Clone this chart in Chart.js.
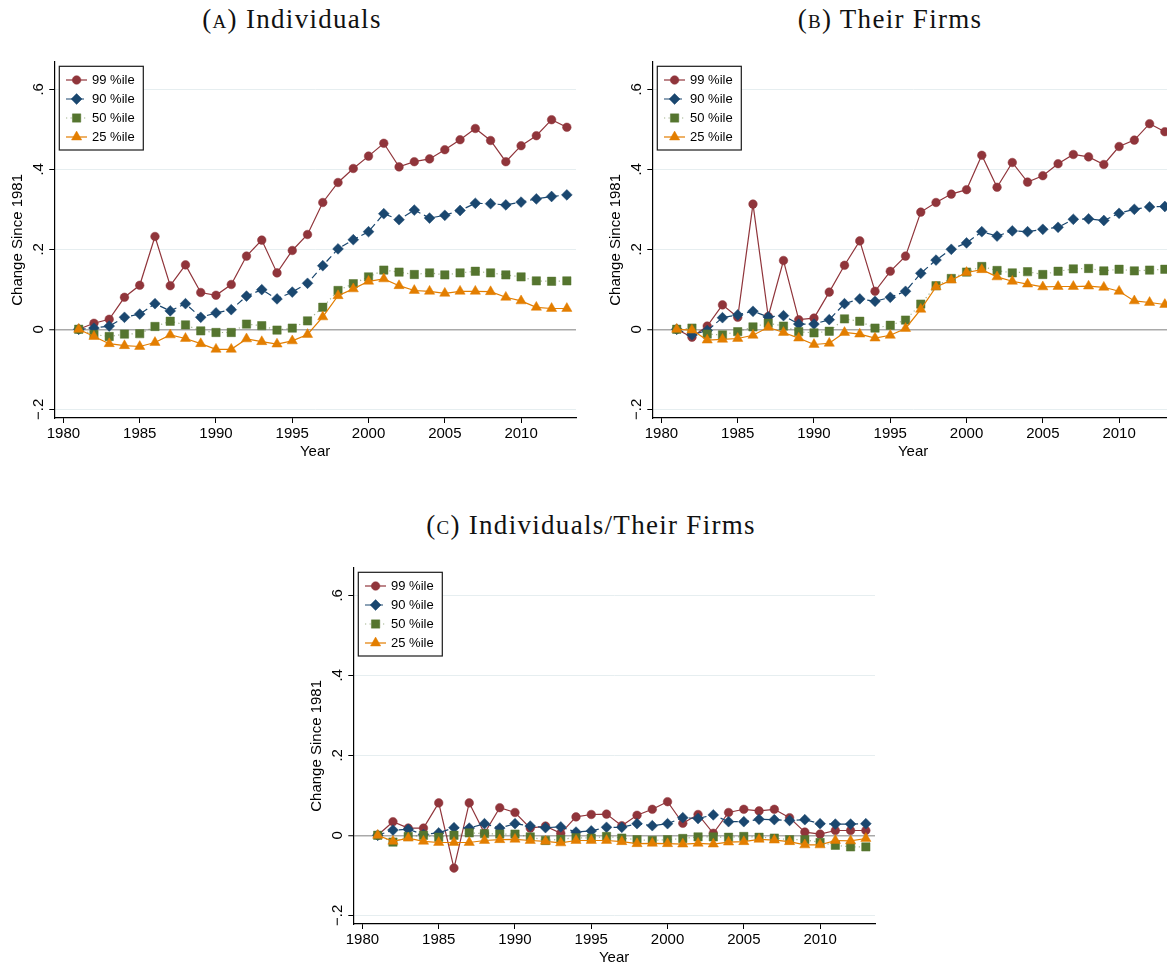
<!DOCTYPE html>
<html>
<head>
<meta charset="utf-8">
<title>Change since 1981 by percentile</title>
<script src="https://cdn.jsdelivr.net/npm/chart.js@4.4.1/dist/chart.umd.min.js"></script>
<style>
  html, body { margin: 0; padding: 0; background: #fff; width: 1167px; height: 968px; overflow: hidden; }
  .panel { position: absolute; width: 600px; height: 470px; }
  .panel canvas { position: absolute; left: 0; top: 0; }
  .ptitle {
    position: absolute; width: 500px; text-align: center; white-space: nowrap;
    font-family: "Liberation Serif", "Times New Roman", serif; font-size: 27px;
    letter-spacing: 1.3px; line-height: 32px; color: #111;
  }
  .sc { font-variant: small-caps; }
</style>
</head>
<body>
<div class="ptitle" style="left:42px; top:3px">(<span class="sc">a</span>) Individuals</div>
<div class="ptitle" style="left:640px; top:3px">(<span class="sc">b</span>) Their Firms</div>
<div class="ptitle" style="left:341px; top:509px">(<span class="sc">c</span>) Individuals/Their Firms</div>

<div class="panel" style="left:0px; top:0px"><canvas id="panelA" width="600" height="470"></canvas></div>
<div class="panel" style="left:598px; top:0px"><canvas id="panelB" width="600" height="470"></canvas></div>
<div class="panel" style="left:299px; top:506px"><canvas id="panelC" width="600" height="470"></canvas></div>

<script>
// Years covered by every series
const years = [1981, 1982, 1983, 1984, 1985, 1986, 1987, 1988, 1989, 1990, 1991,
               1992, 1993, 1994, 1995, 1996, 1997, 1998, 1999, 2000, 2001, 2002,
               2003, 2004, 2005, 2006, 2007, 2008, 2009, 2010, 2011, 2012, 2013];

const seriesLabels = ['99 %ile', '90 %ile', '50 %ile', '25 %ile'];

// (a) Individuals
const indiv99 = [0, .015, .025, .080, .110, .232, .109, .161, .092, .085, .112, .183, .223, .141, .197, .237, .317,
                 .367, .402, .433, .465, .406, .419, .426, .449, .474, .502, .472, .419, .459, .484, .524, .505];
const indiv90 = [0, .003, .008, .030, .038, .064, .046, .064, .030, .041, .049, .083, .099, .076, .093, .115, .159,
                 .201, .224, .244, .289, .274, .298, .278, .285, .297, .315, .314, .311, .318, .326, .332, .336];
const indiv50 = [0, -.013, -.018, -.012, -.011, .007, .020, .011, -.004, -.008, -.008, .013, .009, -.002, .003, .021, .055,
                 .097, .114, .131, .148, .143, .137, .141, .136, .141, .145, .141, .136, .131, .121, .120, .121];
const indiv25 = [0, -.018, -.036, -.041, -.043, -.033, -.014, -.023, -.036, -.050, -.050, -.024, -.031, -.037, -.029, -.013, .031,
                 .084, .101, .120, .126, .109, .097, .095, .090, .095, .095, .094, .080, .071, .055, .052, .052];

// (b) Their firms
const firm99 = [0, -.020, .008, .061, .030, .313, .032, .172, .024, .028, .093, .160, .221, .095, .145, .183, .293,
                .317, .338, .349, .435, .355, .417, .368, .384, .414, .437, .431, .412, .457, .473, .514, .494];
const firm90 = [0, -.014, -.003, .029, .036, .045, .031, .034, .013, .013, .024, .064, .076, .070, .080, .095, .140,
                .173, .200, .216, .244, .233, .246, .244, .250, .255, .275, .276, .272, .290, .300, .306, .307];
const firm50 = [0, .003, -.012, -.014, -.006, .006, .015, .008, -.006, -.009, -.005, .026, .020, .003, .010, .023, .063,
                .109, .127, .143, .157, .147, .141, .144, .137, .145, .151, .152, .146, .150, .146, .148, .150];
const firm25 = [0, -.002, -.027, -.025, -.023, -.015, .005, -.008, -.022, -.038, -.035, -.008, -.012, -.022, -.015, .002, .050,
                .106, .123, .142, .149, .131, .120, .113, .106, .107, .107, .108, .105, .095, .071, .067, .062];

// (c) Individuals relative to their firms
const ratio99 = [0, .034, .018, .018, .081, -.082, .081, .005, .069, .057, .018, .023, .005, .046, .052, .053, .024,
                 .050, .065, .084, .030, .052, .005, .057, .065, .061, .065, .044, .008, .003, .012, .012, .012];
const ratio90 = [0, .013, .015, .002, .006, .019, .018, .029, .018, .029, .023, .019, .021, .008, .011, .020, .020,
                 .029, .024, .029, .044, .042, .051, .034, .034, .040, .039, .037, .039, .029, .028, .028, .029];
const ratio50 = [0, -.017, -.003, 0, -.005, 0, .006, .004, .003, .003, -.004, -.013, -.010, -.006, -.007, -.003, -.007,
                 -.011, -.013, -.011, -.008, -.004, -.004, -.005, -.003, -.005, -.007, -.011, -.011, -.018, -.025, -.029, -.029];
const ratio25 = [0, -.015, -.007, -.015, -.018, -.018, -.018, -.013, -.011, -.010, -.013, -.015, -.019, -.013, -.013, -.013, -.016,
                 -.021, -.020, -.021, -.022, -.020, -.022, -.017, -.016, -.010, -.012, -.016, -.024, -.024, -.013, -.014, -.008];

// Axis ticks
const xTickValues = [1980, 1985, 1990, 1995, 2000, 2005, 2010];
const yTickValues = [-0.2, 0, 0.2, 0.4, 0.6];
const yTickLabels = ['\u2212.2', '0', '.2', '.4', '.6'];

// Line and marker look for each percentile
const seriesStyles = [
  { color: '#90353B', lineColor: '#90353B', pointStyle: 'circle',   radius: 4.3, dash: [],       width: 1.2 },
  { color: '#1A476F', lineColor: '#1A476F', pointStyle: 'rectRot',  radius: 5.4, dash: [7, 4],   width: 1.2 },
  { color: '#55752F', lineColor: 'rgba(85,117,47,0.55)', pointStyle: 'rect', radius: 5.9, dash: [1.2, 3.3], width: 1.2 },
  { color: '#E37E00', lineColor: '#E37E00', pointStyle: 'triangle', radius: 5.9, dash: [],       width: 1.2 }
];

Chart.defaults.font.family = "'Liberation Sans', Arial, Helvetica, sans-serif";
Chart.defaults.color = '#000';

function markerPath(ctx, style, r, x, y) {
  if (Chart.helpers && Chart.helpers.drawPoint) {
    Chart.helpers.drawPoint(ctx, { pointStyle: style, radius: r, rotation: 0, borderWidth: 0.5 }, x, y);
    return;
  }
  ctx.beginPath();
  if (style === 'circle') ctx.arc(x, y, r, 0, Math.PI * 2);
  else if (style === 'rectRot') { ctx.moveTo(x - r, y); ctx.lineTo(x, y - r); ctx.lineTo(x + r, y); ctx.lineTo(x, y + r); }
  else if (style === 'rect') { const s = Math.SQRT1_2 * r; ctx.rect(x - s, y - s, 2 * s, 2 * s); }
  else { for (let k = 0; k < 3; k++) { const a = k * 2 * Math.PI / 3; ctx.lineTo(x + Math.sin(a) * r, y - Math.cos(a) * r); } }
  ctx.closePath(); ctx.fill(); ctx.stroke();
}

// Boxed key in the upper-left corner of the plot: line sample with marker, then label
const percentileKey = {
  id: 'percentileKey',
  afterDraw(chart) {
    const { ctx, chartArea } = chart;
    const x0 = chartArea.left + 5, y0 = chartArea.top + 4.6, w = 84, h = 83.7;
    ctx.save();
    ctx.fillStyle = '#fff';
    ctx.fillRect(x0, y0, w, h);
    ctx.strokeStyle = '#1a1a1a';
    ctx.lineWidth = 1.2;
    ctx.setLineDash([]);
    ctx.strokeRect(x0, y0, w, h);
    seriesLabels.forEach((label, i) => {
      const st = seriesStyles[i];
      const cy = y0 + 13.7 + i * 19;
      ctx.strokeStyle = st.lineColor;
      ctx.lineWidth = st.width;
      ctx.setLineDash(st.dash);
      ctx.beginPath();
      ctx.moveTo(x0 + 6.7, cy);
      ctx.lineTo(x0 + 27.7, cy);
      ctx.stroke();
      ctx.setLineDash([]);
      ctx.fillStyle = st.color;
      ctx.strokeStyle = st.color;
      ctx.lineWidth = 0.5;
      markerPath(ctx, st.pointStyle, st.radius, x0 + 17.3, cy);
      ctx.fillStyle = '#000';
      ctx.font = "13px 'Liberation Sans', Arial, sans-serif";
      ctx.textAlign = 'left';
      ctx.textBaseline = 'middle';
      ctx.fillText(label, x0 + 32.7, cy + 0.5);
    });
    ctx.restore();
  }
};

function buildPanel(canvasId, values) {
  const datasets = values.map((arr, i) => {
    const st = seriesStyles[i];
    return {
      label: seriesLabels[i],
      data: years.map((yr, k) => ({ x: yr, y: arr[k] })),
      borderColor: st.lineColor,
      backgroundColor: st.color,
      borderWidth: st.width,
      borderDash: st.dash,
      pointStyle: st.pointStyle,
      pointRadius: st.radius,
      pointBackgroundColor: st.color,
      pointBorderColor: st.color,
      pointBorderWidth: 0.5,
      tension: 0,
      fill: false,
      order: 4 - i
    };
  });

  return new Chart(document.getElementById(canvasId), {
    type: 'line',
    data: { datasets },
    plugins: [percentileKey],
    options: {
      responsive: false,
      animation: false,
      events: [],
      layout: { padding: { left: 0, top: 61.7, right: 24, bottom: 0 } },
      plugins: { legend: { display: false }, tooltip: { enabled: false } },
      scales: {
        x: {
          type: 'linear',
          min: 1979.4,
          max: 2013.6,
          afterBuildTicks: s => { s.ticks = xTickValues.map(v => ({ value: v })); },
          afterFit: s => { s.height = 52; },
          ticks: {
            autoSkip: false, maxRotation: 0, minRotation: 0, padding: 2,
            font: { size: 15 }, color: '#000',
            callback: v => String(v)
          },
          grid: { drawOnChartArea: false, drawTicks: true, tickLength: 5, tickColor: '#000', tickWidth: 1 },
          border: { display: true, color: '#000', width: 1.2 },
          title: { display: true, text: 'Year', color: '#000', font: { size: 15 }, padding: { top: 0, bottom: 9 } }
        },
        y: {
          type: 'linear',
          min: -0.2218,
          max: 0.669,
          afterBuildTicks: s => { s.ticks = yTickValues.map(v => ({ value: v })); },
          afterFit: s => { s.width = 54.3; },
          ticks: {
            autoSkip: false, minRotation: 90, maxRotation: 90, crossAlign: 'center', padding: 0,
            font: { size: 15 }, color: '#000',
            callback: (v, i) => yTickLabels[i]
          },
          grid: {
            drawTicks: true, tickLength: 5, tickColor: '#000', tickWidth: 1,
            color: c => (c.tick && c.tick.value === 0) ? '#a9a9a9' : '#e6eef0',
            lineWidth: c => (c.tick && c.tick.value === 0) ? 1.5 : 1
          },
          border: { display: true, color: '#000', width: 1.2 },
          title: { display: true, text: 'Change Since 1981', color: '#000', font: { size: 15 }, padding: { top: 9, bottom: 0 } }
        }
      }
    }
  });
}

buildPanel('panelA', [indiv99, indiv90, indiv50, indiv25]);
buildPanel('panelB', [firm99, firm90, firm50, firm25]);
buildPanel('panelC', [ratio99, ratio90, ratio50, ratio25]);
</script>
</body>
</html>
